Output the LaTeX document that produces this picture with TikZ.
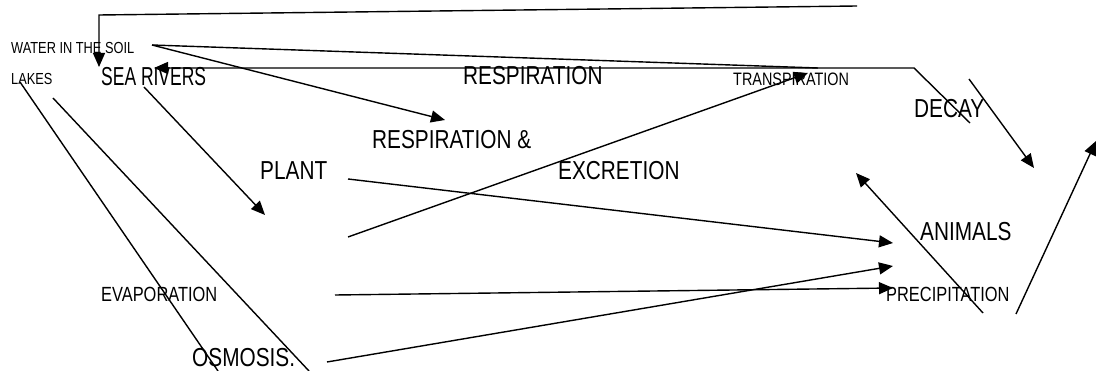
\documentclass[tikz,border=0pt]{standalone}
\usepackage{fontspec}
\setmainfont[FakeStretch=0.8]{Liberation Sans}
\usetikzlibrary{arrows.meta}
\tikzset{
  bigtxt/.style={inner sep=0pt, anchor=base west, font=\fontsize{26}{30}\selectfont},
  midtxt/.style={inner sep=0pt, anchor=base west, font=\fontsize{20.5}{24}\selectfont},
  transtxt/.style={inner sep=0pt, anchor=base west, font=\fontsize{18}{22}\selectfont},
  smalltxt/.style={inner sep=0pt, anchor=base west, font=\fontsize{16}{19}\selectfont},
  link/.style={line width=1.4pt},
  flow/.style={link, -{Triangle[length=14pt, width=12pt]}},
}

\begin{document}
\begin{tikzpicture}[x=1pt, y=-1pt]
  \useasboundingbox (0,0) rectangle (1096,371);
  \node[smalltxt] (soil) at (11,54) {WATER IN THE SOIL};
  \node[smalltxt] (lakes) at (11,85) {LAKES};
  \node[bigtxt] (sea) at (101,86) {\scalebox{0.84}[1]{SEA RIVERS}};
  \node[bigtxt] (resp) at (463,85) {RESPIRATION};
  \node[transtxt] (trans) at (733,86) {TRANSPIRATION};
  \node[bigtxt] (decay) at (914,118) {DECAY};
  \node[bigtxt] (respex) at (372,149) {RESPIRATION \&};
  \node[bigtxt] (plant) at (260,180) {PLANT};
  \node[bigtxt] (excr) at (558,180) {EXCRETION};
  \node[bigtxt] (animals) at (920,241) {ANIMALS};
  \node[midtxt] (evap) at (101,302) {EVAPORATION};
  \node[midtxt] (prec) at (886,302) {PRECIPITATION};
  \node[bigtxt] (osm) at (192,367) {OSMOSIS.};

  \coordinate (topR) at (857,6);
  \coordinate (topL) at (99,15);
  \coordinate (soilIn) at (99,67);
  \coordinate (soilOut) at (152,45);
  \coordinate (transEnd) at (818,68);
  \coordinate (respIn) at (445,120);
  \coordinate (decayOut) at (970,123);
  \coordinate (decayBend) at (914,68);
  \coordinate (seaIn) at (154,68);
  \coordinate (lakesA) at (20,82);
  \coordinate (lakesEndA) at (218,371);
  \coordinate (lakesB) at (53,98);
  \coordinate (lakesEndB) at (309,371);
  \coordinate (seaOut) at (144,87);
  \coordinate (plantIn) at (265,215);
  \coordinate (plantOut) at (348,179);
  \coordinate (animalIn) at (893,243);
  \coordinate (plantUp) at (348,237);
  \coordinate (transIn) at (808,73);
  \coordinate (evapOut) at (335,295);
  \coordinate (precIn) at (893,288);
  \coordinate (osmOut) at (327,362);
  \coordinate (osmIn) at (893,266);
  \coordinate (precUp) at (983,313);
  \coordinate (excrIn) at (856,173);
  \coordinate (decayDown) at (969,79);
  \coordinate (decayIn) at (1034,168);
  \coordinate (rightUp) at (1016,314);
  \coordinate (rightIn) at (1096,141);

  \draw[flow] (topR) -- (topL) -- (soilIn);
  \draw[link] (soilOut) -- (transEnd);
  \draw[flow] (soilOut) -- (respIn);
  \draw[flow] (decayOut) -- (decayBend) -- (seaIn);
  \draw[link] (lakesA) -- (lakesEndA);
  \draw[link] (lakesB) -- (lakesEndB);
  \draw[flow] (seaOut) -- (plantIn);
  \draw[flow] (plantOut) -- (animalIn);
  \draw[flow] (plantUp) -- (transIn);
  \draw[flow] (evapOut) -- (precIn);
  \draw[flow] (osmOut) -- (osmIn);
  \draw[flow] (precUp) -- (excrIn);
  \draw[flow] (decayDown) -- (decayIn);
  \draw[flow] (rightUp) -- (rightIn);
\end{tikzpicture}
\end{document}
